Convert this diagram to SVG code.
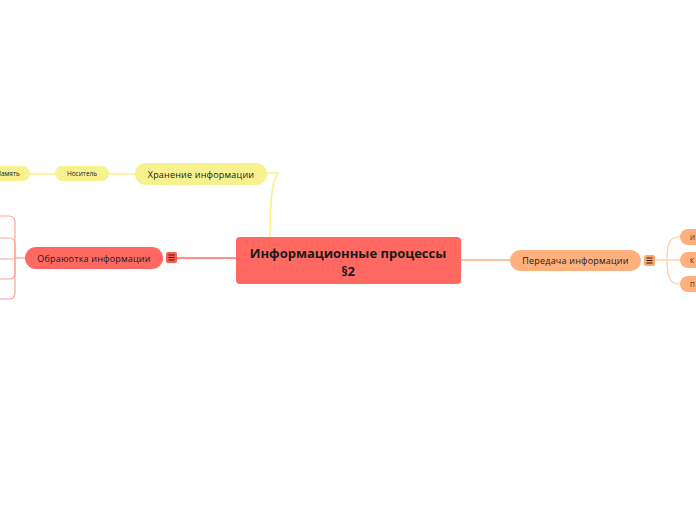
<svg xmlns="http://www.w3.org/2000/svg" width="696" height="520" viewBox="0 0 696 520">
<style>
text{font-family:"Open Sans","Noto Sans","Liberation Sans",sans-serif;fill:#1a1a1a;text-anchor:middle}
.t10{font-size:9px;letter-spacing:0.2px}
.t7{font-size:6.5px}
.tc{font-size:13px;font-weight:bold}
.red{fill:#FF6961}
.yel{fill:#F7F28F}
.org{fill:#FFB07C}
.lr{stroke:#FF6961;stroke-width:1.5;fill:none}
.lr2{stroke:#FFA29C;stroke-width:1.2;fill:none}
.ly{stroke:#F7F28F;stroke-width:1.5;fill:none}
.lo{stroke:#FFB07C;stroke-width:1.5;fill:none}
.lo2{stroke:#FFC9A3;stroke-width:1.2;fill:none}
.ic{stroke:#222;stroke-width:1}
</style>
<rect width="696" height="520" fill="#fff"/>
<g id="connectors">
<path class="ly" d="M267 173 H278 C272 180 270 200 270 237"/>
<path class="ly" d="M109 174 H135"/>
<path class="ly" d="M30 174 H55"/>
<path class="lr" d="M177 258 H236"/>
<path class="lr2" d="M25 258 H15"/>
<path class="lr2" d="M15 258 V222 Q15 216 9 216 H0"/>
<path class="lr2" d="M15 258 V244 Q15 238 9 238 H0"/>
<path class="lr2" d="M15 258 V259 H0"/>
<path class="lr2" d="M15 258 V273 Q15 279 9 279 H0"/>
<path class="lr2" d="M15 258 V293 Q15 299 9 299 H0"/>
<path class="lo" d="M461 260 H510"/>
<path class="lo2" d="M655 260 H680"/>
<path class="lo2" d="M667 260 C667 242 670 237 680 237"/>
<path class="lo2" d="M667 260 C667 278 670 284 680 284"/>
</g>
<g id="central">
<rect class="red" x="236" y="237" width="225" height="47" rx="4"/>
<text class="tc" x="348" y="258">Информационные процессы</text>
<text class="tc" x="348" y="276">§2</text>
</g>
<g id="hranenie">
<rect class="yel" x="135" y="163" width="132" height="22" rx="11"/>
<text class="t10" x="201" y="177.5">Хранение информации</text>
</g>
<g id="nositel">
<rect class="yel" x="55" y="166" width="54" height="15" rx="7.5"/>
<text class="t7" x="82" y="176">Носитель</text>
</g>
<g id="pamyat">
<rect class="yel" x="-20" y="166" width="50" height="15" rx="7.5"/>
<text class="t7" x="8" y="176">Память</text>
</g>
<g id="obrabotka">
<rect class="red" x="25" y="247" width="138" height="22" rx="11"/>
<text class="t10" x="94" y="261.5">Обраюотка информации</text>
<rect x="166" y="252" width="11" height="11" rx="2" fill="#FF5A52"/>
<path class="ic" d="M168.5 255 H174.5 M168.5 257.5 H174.5 M168.5 260 H174.5"/>
</g>
<g id="peredacha">
<rect class="org" x="510" y="250" width="131" height="21" rx="10.5"/>
<text class="t10" x="575.5" y="264">Передача информации</text>
<rect x="644" y="255" width="11" height="11" rx="2" fill="#FFA56B"/>
<path class="ic" d="M646.5 258 H652.5 M646.5 260.5 H652.5 M646.5 263 H652.5"/>
</g>
<g id="child-i">
<rect class="org" x="680" y="229" width="40" height="16" rx="8"/>
<text class="t7" x="690" y="239.5" style="text-anchor:start">И</text>
</g>
<g id="child-k">
<rect class="org" x="680" y="252" width="40" height="16" rx="8"/>
<text class="t7" x="690" y="262.5" style="text-anchor:start">К</text>
</g>
<g id="child-p">
<rect class="org" x="680" y="276" width="40" height="16" rx="8"/>
<text class="t7" x="690" y="286.5" style="text-anchor:start">П</text>
</g>
</svg>
